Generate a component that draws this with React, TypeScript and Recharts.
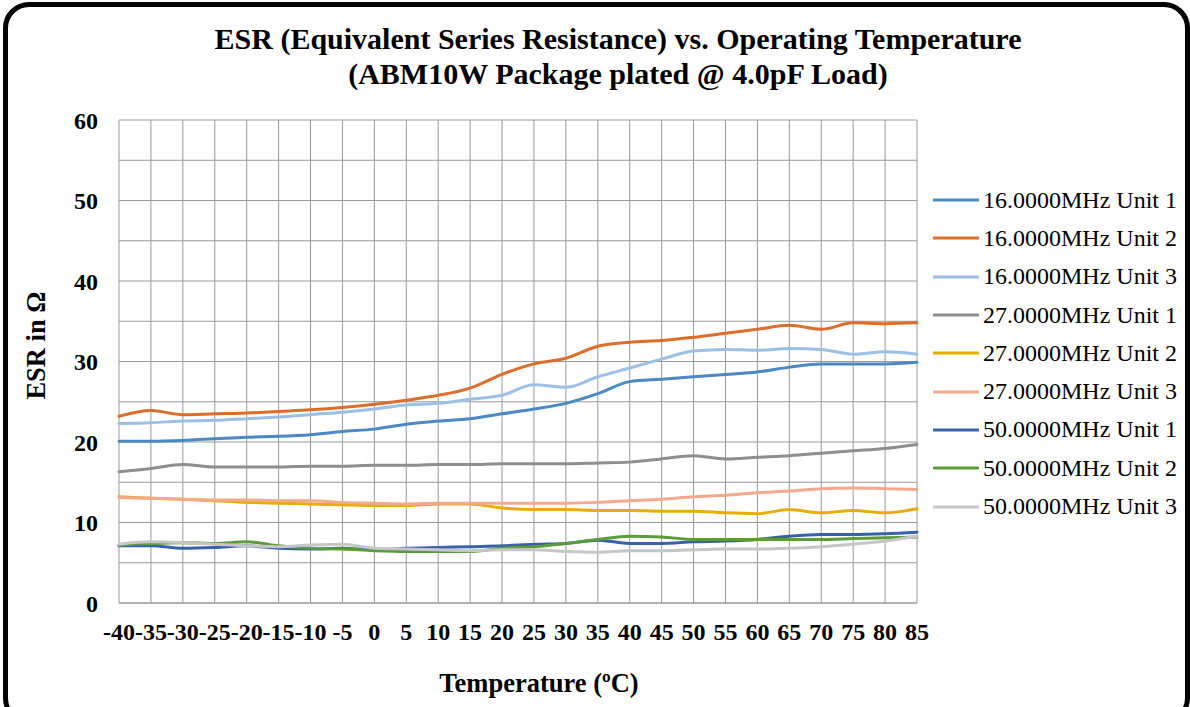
import React from 'react'
import { LineChart, Line, XAxis, YAxis, CartesianGrid, ReferenceLine } from 'recharts'

const temps = [-40, -35, -30, -25, -20, -15, -10, -5, 0, 5, 10, 15, 20, 25, 30, 35, 40, 45, 50, 55, 60, 65, 70, 75, 80, 85]

const mhz16u1 = [20.1, 20.1, 20.2, 20.4, 20.6, 20.7, 20.9, 21.3, 21.6, 22.2, 22.6, 22.9, 23.5, 24.1, 24.8, 26.0, 27.5, 27.8, 28.1, 28.4, 28.7, 29.3, 29.7, 29.7, 29.7, 29.9]
const mhz16u2 = [23.2, 23.9, 23.4, 23.5, 23.6, 23.8, 24.0, 24.3, 24.7, 25.2, 25.8, 26.7, 28.4, 29.7, 30.4, 31.9, 32.4, 32.6, 33.0, 33.5, 34.0, 34.5, 34.0, 34.8, 34.7, 34.8]
const mhz16u3 = [22.3, 22.4, 22.6, 22.7, 22.9, 23.1, 23.4, 23.7, 24.1, 24.6, 24.8, 25.3, 25.8, 27.1, 26.8, 28.1, 29.2, 30.3, 31.3, 31.5, 31.4, 31.6, 31.5, 30.9, 31.2, 30.9]
const mhz27u1 = [16.3, 16.7, 17.2, 16.9, 16.9, 16.9, 17.0, 17.0, 17.1, 17.1, 17.2, 17.2, 17.3, 17.3, 17.3, 17.4, 17.5, 17.9, 18.3, 17.9, 18.1, 18.3, 18.6, 18.9, 19.2, 19.7]
const mhz27u2 = [13.2, 13.0, 12.9, 12.7, 12.5, 12.4, 12.3, 12.2, 12.1, 12.1, 12.3, 12.3, 11.8, 11.6, 11.6, 11.5, 11.5, 11.4, 11.4, 11.2, 11.1, 11.6, 11.2, 11.5, 11.2, 11.7]
const mhz27u3 = [13.1, 13.0, 12.9, 12.8, 12.8, 12.7, 12.7, 12.5, 12.4, 12.3, 12.4, 12.4, 12.4, 12.4, 12.4, 12.5, 12.7, 12.9, 13.2, 13.4, 13.7, 13.9, 14.2, 14.3, 14.2, 14.1]
const mhz50u1 = [7.1, 7.1, 6.8, 6.9, 7.1, 6.8, 6.7, 6.8, 6.6, 6.8, 6.9, 7.0, 7.1, 7.3, 7.4, 7.8, 7.4, 7.4, 7.6, 7.7, 7.9, 8.3, 8.5, 8.5, 8.6, 8.8]
const mhz50u2 = [7.2, 7.4, 7.5, 7.4, 7.6, 7.1, 6.8, 6.7, 6.5, 6.4, 6.4, 6.4, 6.8, 7.0, 7.4, 7.9, 8.3, 8.2, 7.9, 7.9, 7.9, 7.9, 7.9, 8.0, 8.1, 8.2]
const mhz50u3 = [7.3, 7.6, 7.5, 7.3, 7.1, 7.0, 7.2, 7.3, 6.8, 6.7, 6.6, 6.5, 6.6, 6.6, 6.4, 6.3, 6.5, 6.5, 6.6, 6.7, 6.7, 6.8, 7.0, 7.3, 7.7, 8.3]

const seriesNames = [
  '16.0000MHz Unit 1', '16.0000MHz Unit 2', '16.0000MHz Unit 3',
  '27.0000MHz Unit 1', '27.0000MHz Unit 2', '27.0000MHz Unit 3',
  '50.0000MHz Unit 1', '50.0000MHz Unit 2', '50.0000MHz Unit 3',
]
const seriesValues = [mhz16u1, mhz16u2, mhz16u3, mhz27u1, mhz27u2, mhz27u3, mhz50u1, mhz50u2, mhz50u3]
const seriesColors = ['#4a89c4', '#dc6d2a', '#9cc0e5', '#8e8e8e', '#e8ad00', '#f3a98c', '#3761ad', '#5b9b3a', '#c6c6c6']

const yTicks = [0, 10, 20, 30, 40, 50, 60]
const gridLevels = [0, 5, 10, 15, 20, 25, 30, 35, 40, 45, 50, 55, 60]

const data = temps.map((t, i) => {
  const row: Record<string, number> = { t }
  seriesValues.forEach((vals, s) => { row['s' + s] = vals[i] })
  return row
})

const serif = '"Liberation Serif", "Times New Roman", serif'
const tickStyle = { fontFamily: serif, fontSize: 24, fontWeight: 'bold', fill: '#000' }
const gridColor = '#999999'

export default function App() {
  return (
    <div style={{ position: 'absolute', left: 0, top: 0, width: 1190, height: 707, background: '#fff', overflow: 'hidden' }}>
      {/* rounded frame */}
      <div style={{ position: 'absolute', left: 3, top: 2, width: 1177, height: 712, border: '5px solid #000', borderRadius: 26 }} />

      <div style={{ position: 'absolute', left: 118, top: 21, width: 1000, textAlign: 'center', fontFamily: serif, fontSize: 30, fontWeight: 'bold', lineHeight: '35px', color: '#000' }}>
        ESR (Equivalent Series Resistance) vs. Operating Temperature
        <br />
        (ABM10W Package plated @ 4.0pF Load)
      </div>

      <div style={{ position: 'absolute', left: 0, top: 0 }}>
        <LineChart width={1190} height={707} data={data} margin={{ top: 120, right: 273, bottom: 64, left: 0 }}>
          <CartesianGrid horizontal={false} stroke={gridColor} />
          {gridLevels.map((v) => (
            <ReferenceLine key={v} y={v} stroke={gridColor} strokeWidth={1} />
          ))}
          <XAxis
            dataKey="t"
            interval={0}
            height={40}
            tickLine={false}
            axisLine={{ stroke: gridColor }}
            tickMargin={14}
            tick={tickStyle}
            label={{
              content: ({ viewBox }: any) => (
                <text
                  x={viewBox.x + viewBox.width / 2 + 21}
                  y={viewBox.y + 89}
                  textAnchor="middle"
                  style={{ fontFamily: serif, fontSize: 26.5, fontWeight: 'bold' }}
                  fill="#000"
                >
                  Temperature (ºC)
                </text>
              ),
            }}
          />
          <YAxis
            width={119}
            domain={[0, 60]}
            ticks={yTicks}
            tickLine={false}
            axisLine={false}
            tickMargin={15}
            tick={tickStyle}
            label={{
              content: ({ viewBox }: any) => {
                const cx = viewBox.x + 45
                const cy = viewBox.y + viewBox.height / 2 - 16
                return (
                  <text
                    x={cx}
                    y={cy}
                    transform={`rotate(-90 ${cx} ${cy})`}
                    textAnchor="middle"
                    style={{ fontFamily: serif, fontSize: 26.5, fontWeight: 'bold' }}
                    fill="#000"
                  >
                    ESR in Ω
                  </text>
                )
              },
            }}
          />
          {seriesNames.map((name, s) => (
            <Line
              key={name}
              name={name}
              dataKey={'s' + s}
              type="monotone"
              stroke={seriesColors[s]}
              strokeWidth={3}
              strokeLinecap="round"
              dot={false}
              activeDot={false}
              isAnimationActive={false}
            />
          ))}
        </LineChart>
      </div>

      {/* legend */}
      <div style={{ position: 'absolute', left: 933, top: 181, fontFamily: serif, fontSize: 24, color: '#000' }}>
        {seriesNames.map((name, s) => (
          <div key={name} style={{ display: 'flex', alignItems: 'center', height: 38.3 }}>
            <svg width={46} height={6} style={{ marginRight: 4 }}>
              <line x1={1} y1={3} x2={45} y2={3} stroke={seriesColors[s]} strokeWidth={3} strokeLinecap="round" />
            </svg>
            <span style={{ whiteSpace: 'nowrap' }}>{name}</span>
          </div>
        ))}
      </div>
    </div>
  )
}
